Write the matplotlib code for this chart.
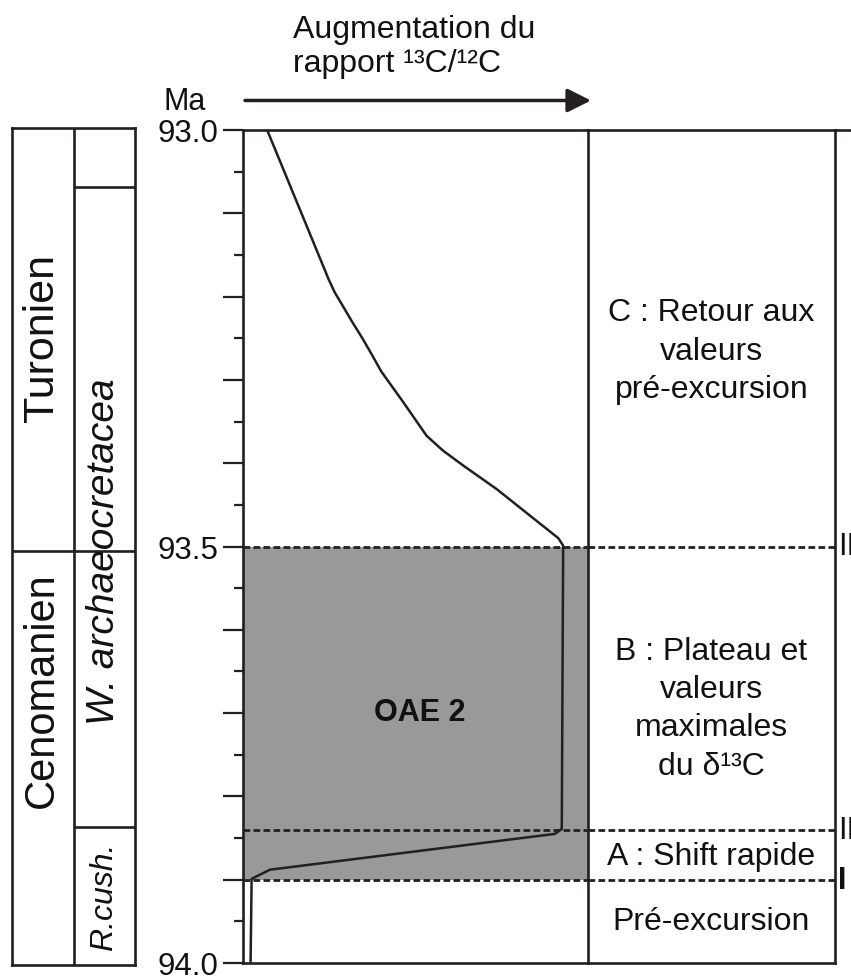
import matplotlib.pyplot as plt
from matplotlib.ticker import MultipleLocator, FuncFormatter

plt.rcParams['font.family'] = ['Liberation Sans', 'DejaVu Sans']

# courbe du rapport 13C/12C : age (Ma) et position relative dans la colonne (0-100)
ages_courbe = [93.0, 93.180, 93.195, 93.211, 93.230, 93.250, 93.270, 93.290, 93.327,
               93.367, 93.385, 93.403, 93.431, 93.463, 93.490, 93.499,
               93.839, 93.845, 93.888, 93.899, 93.998]
rapport_courbe = [7.0, 24.9, 26.6, 28.9, 31.6, 34.6, 37.4, 40.1, 46.5,
                  53.2, 58.0, 63.9, 73.5, 83.2, 91.4, 92.8,
                  92.4, 90.4, 7.8, 2.5, 2.2]

etages = ['Turonien', 'Cenomanien']
limites_etages = [93.0, 93.505, 94.0]
zones = ['', 'W. archaeocretacea', 'R.cush.']
limites_zones = [93.0, 93.07, 93.835, 94.0]

phases = ['C : Retour aux\nvaleurs\npré-excursion',
          'B : Plateau et\nvaleurs\nmaximales\ndu δ¹³C',
          'A : Shift rapide',
          'Pré-excursion']
limites_phases = [93.5, 93.84, 93.9]
noms_limites = ['III', 'II', 'I']
oae_debut, oae_fin = 93.5, 93.9

graduations = [93.0, 93.5, 94.0]
etiquettes = ['93.0', '93.5', '94.0']

noir = '#231f20'
gris = '#999999'

W, H = 851, 978
fig = plt.figure(figsize=(W / 100, H / 100), dpi=100)


def cadre(gauche, haut, droite, bas):
    return [gauche / W, 1 - bas / H, (droite - gauche) / W, (bas - haut) / H]


def format_age(y, pos):
    for g, e in zip(graduations, etiquettes):
        if abs(y - g) < 1e-6:
            return e
    return ''


ax = fig.add_axes(cadre(243, 131, 588, 964))
ax_ph = fig.add_axes(cadre(588, 131, 835, 964))
ax_st = fig.add_axes(cadre(12, 129, 135, 966))
ax_ph.patch.set_visible(False)
ax_st.patch.set_visible(False)

# --- colonne de la courbe ---
ax.set_xlim(0, 100)
ax.set_ylim(94.0, 93.0)
ax.axhspan(oae_debut, oae_fin, color=gris, lw=0, zorder=0)
ax.plot(rapport_courbe, ages_courbe, color=noir, lw=1.8, zorder=3)
for y in limites_phases:
    ax.axhline(y, color=noir, lw=2.0, ls=(0, (2.4, 1.2)), zorder=2)
ax.text(51.3, 93.699, 'OAE 2', weight='bold', size=22, ha='center', va='center', color='#111111')

ax.yaxis.set_major_locator(MultipleLocator(0.1))
ax.yaxis.set_minor_locator(MultipleLocator(0.05))
ax.yaxis.set_major_formatter(FuncFormatter(format_age))
ax.tick_params(axis='y', which='major', length=14.4, width=1.6, pad=3.5,
               labelsize=22.5, color=noir, labelcolor='#111111')
ax.tick_params(axis='y', which='minor', length=6.5, width=1.6, color=noir)
ax.set_xticks([])
for s in ax.spines.values():
    s.set_linewidth(1.9)
    s.set_color(noir)

# --- colonne des phases ---
ax_ph.set_xlim(0, 1)
ax_ph.set_ylim(94.0, 93.0)
ax_ph.set_xticks([])
ax_ph.set_yticks([])
ax_ph.spines['left'].set_visible(False)
for s in ['right', 'top', 'bottom']:
    ax_ph.spines[s].set_linewidth(1.9)
    ax_ph.spines[s].set_color(noir)
ax_ph.axhline(93.0, xmin=1, xmax=(W - 588) / 247, clip_on=False, color=noir, lw=1.9)
for y, nom in zip(limites_phases, noms_limites):
    ax_ph.axhline(y, color=noir, lw=2.0, ls=(0, (2.4, 1.2)))
    ax_ph.text(1.012, y, nom, transform=ax_ph.get_yaxis_transform(), size=22,
               weight='bold' if nom == 'I' else 'normal',
               ha='left', va='center', clip_on=False, color='#111111')

pos_phases = [93.265, 93.694, 93.871, 93.95]
for texte, y in zip(phases, pos_phases):
    ax_ph.text(0.5, y, texte, size=23, ha='center', va='center',
               linespacing=1.36, color='#111111')

# --- colonne stratigraphique ---
ax_st.set_xlim(0, 2)
ax_st.set_ylim(94.0, 93.0)
ax_st.set_xticks([])
ax_st.set_yticks([])
for s in ax_st.spines.values():
    s.set_linewidth(1.9)
    s.set_color(noir)
ax_st.axvline(1, color=noir, lw=1.9)
ax_st.hlines(limites_etages[1:-1], 0, 2, color=noir, lw=1.9)
ax_st.hlines(limites_zones[1:-1], 1, 2, color=noir, lw=1.9)

ax_st.text(0.49, 93.25, etages[0], rotation=90, size=31, ha='center', va='center', color='#111111')
ax_st.text(0.49, 93.67, etages[1], rotation=90, size=30, ha='center', va='center', color='#111111')
ax_st.text(1.5, 93.505, zones[1], rotation=90, size=28, style='italic',
           ha='center', va='center', color='#111111')
ax_st.text(1.5, 93.917, zones[2], rotation=90, size=23, style='italic',
           ha='center', va='center', color='#111111')

# --- en-tete ---
fig.text(293 / W, 1 - 38 / H, 'Augmentation du', size=23, va='baseline', color='#111111')
fig.text(293 / W, 1 - 72 / H, 'rapport ¹³C/¹²C', size=23, va='baseline', color='#111111')
fig.text(163 / W, 1 - 110 / H, 'Ma', size=22, va='baseline', color='#111111')
ax.annotate('', xy=(591 / W, 1 - 101.5 / H), xytext=(245 / W, 1 - 101.5 / H),
            xycoords='figure fraction', textcoords='figure fraction',
            arrowprops=dict(arrowstyle='-|>,head_length=0.72,head_width=0.36',
                            mutation_scale=20, lw=2.5, color=noir,
                            shrinkA=0, shrinkB=0))

fig.savefig('out.png', dpi=100)
